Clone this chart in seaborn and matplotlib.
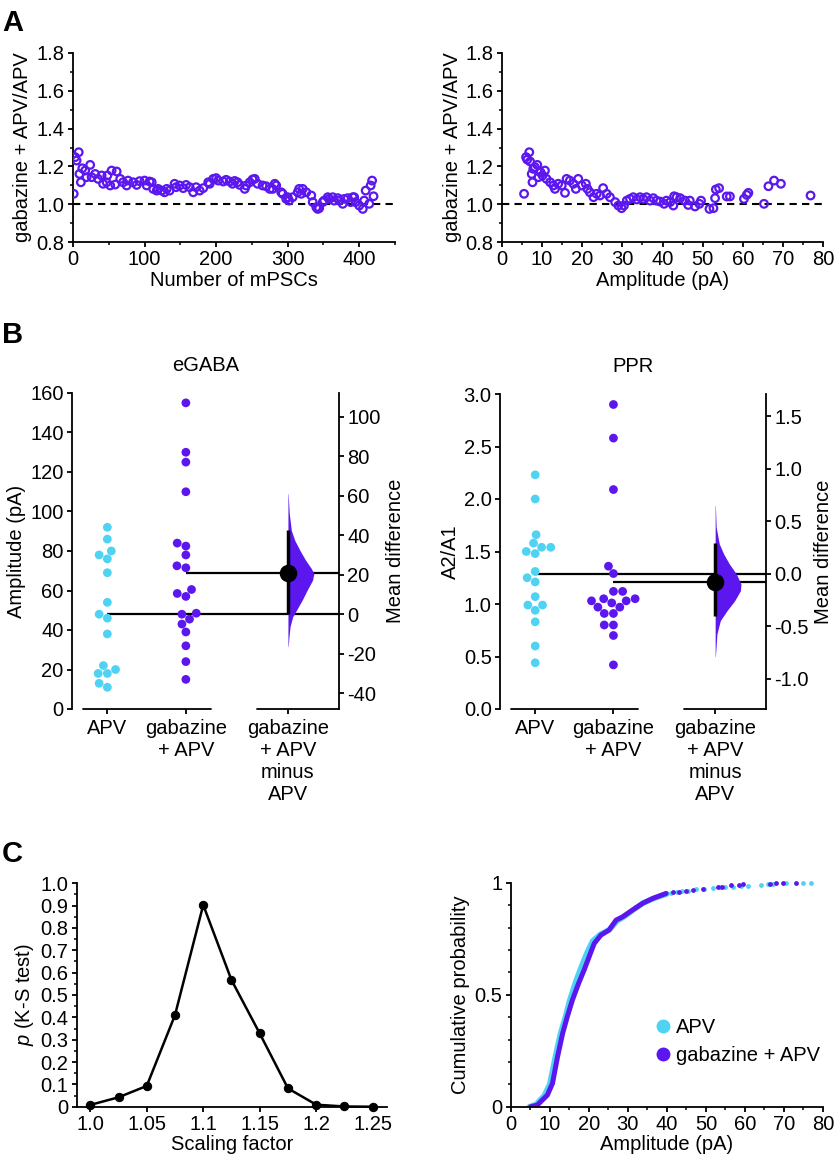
import numpy as np
import pandas as pd
import seaborn as sns
import matplotlib.pyplot as plt
from matplotlib.lines import Line2D
from matplotlib.ticker import MultipleLocator

sns.set_theme(style="ticks")
plt.rcParams['font.family'] = ['Liberation Sans', 'DejaVu Sans']
plt.rcParams['axes.unicode_minus'] = False
plt.rcParams['mathtext.fontset'] = 'custom'
plt.rcParams['mathtext.it'] = 'Liberation Sans:italic'
plt.rcParams['mathtext.rm'] = 'Liberation Sans'
FS = 14.5
plt.rcParams.update({'font.size': FS, 'axes.labelsize': FS, 'axes.titlesize': FS,
                     'xtick.labelsize': FS, 'ytick.labelsize': FS,
                     'axes.linewidth': 1.3, 'xtick.major.width': 1.3, 'ytick.major.width': 1.3,
                     'xtick.minor.width': 1.1, 'ytick.minor.width': 1.1,
                     'xtick.major.size': 3.5, 'ytick.major.size': 3.5,
                     'xtick.minor.size': 2.2, 'ytick.minor.size': 2.2,
                     'xtick.major.pad': 2.5, 'ytick.major.pad': 2.5,
                     'axes.edgecolor': 'black', 'xtick.color': 'black', 'ytick.color': 'black',
                     'text.color': 'black', 'axes.labelcolor': 'black'})

CYAN = '#50D3F3'
PURPLE = '#5B17EE'

# ---- panel A: ratio vs rank and vs amplitude
a_rank = [1, 3, 5, 8, 9, 11, 13, 17, 19, 24, 26, 31, 35, 40, 42, 47, 48, 52, 54, 59,
          61, 66, 70, 75, 77, 84, 89, 93, 100, 103, 107, 110, 112, 117, 119, 124, 128, 131, 135, 142,
          144, 149, 154, 158, 163, 168, 172, 177, 182, 189, 191, 196, 200, 203, 210, 214, 219, 223, 226, 230,
          233, 240, 242, 247, 251, 254, 258, 265, 270, 275, 279, 282, 284, 291, 293, 298, 300, 302, 307, 314,
          316, 319, 321, 326, 333, 335, 340, 342, 344, 349, 351, 356, 358, 363, 365, 370, 372, 377, 379, 384,
          388, 391, 393, 395, 400, 405, 407, 409, 414, 416, 418, 420]
a_rank_ratio = [1.055, 1.249, 1.231, 1.275, 1.160, 1.116, 1.190, 1.178, 1.143, 1.208, 1.143, 1.160, 1.134, 1.152, 1.108, 1.116, 1.152, 1.099, 1.178, 1.104,
                1.173, 1.134, 1.116, 1.099, 1.125, 1.116, 1.102, 1.122, 1.125, 1.099, 1.120, 1.116, 1.081, 1.072, 1.081, 1.072, 1.063, 1.081, 1.072, 1.108,
                1.090, 1.099, 1.085, 1.102, 1.090, 1.063, 1.090, 1.072, 1.085, 1.116, 1.108, 1.134, 1.138, 1.125, 1.120, 1.129, 1.120, 1.108, 1.123, 1.116,
                1.102, 1.081, 1.099, 1.116, 1.131, 1.134, 1.108, 1.099, 1.095, 1.081, 1.081, 1.108, 1.099, 1.063, 1.055, 1.028, 1.037, 1.019, 1.037, 1.063,
                1.081, 1.055, 1.081, 1.063, 1.046, 1.011, 0.984, 0.975, 0.979, 1.011, 1.019, 1.037, 1.028, 1.037, 1.019, 1.032, 1.019, 1.002, 1.028, 1.032,
                1.011, 1.037, 1.037, 1.011, 0.993, 0.975, 1.019, 1.072, 1.002, 1.099, 1.125, 1.042]

a_amp = [5.5, 6.0, 6.3, 6.8, 7.0, 7.4, 7.6, 7.8, 8.2, 8.8, 9.1, 9.6, 10.1, 10.7, 11.1, 12.0, 12.8, 13.2, 14.0, 14.9,
         15.7, 16.1, 16.9, 17.8, 18.4, 19.0, 19.9, 20.9, 21.3, 21.9, 22.8, 23.6, 24.4, 25.2, 26.1, 26.9, 28.2, 29.0, 29.8, 30.4,
         31.1, 31.9, 32.7, 33.6, 34.4, 35.2, 36.0, 36.9, 37.7, 38.5, 39.4, 40.4, 41.0, 41.9, 42.7, 42.9, 43.5, 44.4, 45.6, 46.4,
         46.8, 48.1, 49.2, 49.6, 51.7, 52.7, 53.1, 53.3, 54.1, 56.0, 56.8, 60.3, 61.0, 61.4, 65.3, 66.4, 67.8, 69.5, 76.9]
a_amp_ratio = [1.055, 1.249, 1.236, 1.275, 1.226, 1.160, 1.116, 1.187, 1.196, 1.208, 1.143, 1.169, 1.152, 1.178, 1.134, 1.116, 1.099, 1.081, 1.108, 1.099,
               1.060, 1.134, 1.125, 1.108, 1.081, 1.134, 1.099, 1.108, 1.081, 1.063, 1.037, 1.055, 1.046, 1.085, 1.055, 1.037, 1.011, 0.993, 0.979, 0.993,
               1.019, 1.028, 1.037, 1.025, 1.037, 1.028, 1.037, 1.019, 1.032, 1.019, 1.014, 1.002, 1.019, 1.011, 0.993, 1.042, 1.037, 1.032, 1.019, 0.996,
               1.019, 0.988, 1.002, 1.019, 0.975, 0.979, 1.032, 1.078, 1.085, 1.041, 1.041, 1.028, 1.049, 1.060, 1.002, 1.095, 1.125, 1.108, 1.046]

# ---- panel B: estimation plots
egaba_apv = [92, 86, 80, 78, 76, 69, 54, 48, 46, 38, 22, 20, 18, 18, 13, 11]
egaba_gab = [155, 130, 125, 110, 84, 82.5, 78, 72.5, 71.5, 60.5, 58.5, 57, 48.5, 48, 45.5, 43, 39, 32, 24, 15]
egaba_ci = [0.0, 42.5]
egaba_boot_y = [61, 51, 42.4, 37.4, 32.3, 27.3, 23.1, 20.6, 17.2, 12.1, 7.1, 2.0, -1.4, -6.4, -11.5, -16.5]
egaba_boot_w = [0.01, 0.05, 0.13, 0.26, 0.46, 0.68, 0.90, 1.0, 0.95, 0.74, 0.55, 0.33, 0.18, 0.08, 0.04, 0.01]

ppr_apv = [2.23, 2.0, 1.66, 1.58, 1.54, 1.54, 1.50, 1.48, 1.31, 1.25, 1.21, 1.07, 0.99, 0.99, 0.94, 0.83, 0.60, 0.44]
ppr_gab = [2.90, 2.58, 2.09, 1.36, 1.29, 1.12, 1.12, 1.05, 1.05, 1.03, 1.03, 1.01, 0.97, 0.97, 0.91, 0.91, 0.80, 0.80, 0.70, 0.42]
ppr_ci = [-0.40, 0.29]
ppr_boot_y = [0.65, 0.444, 0.286, 0.19, 0.095, 0.0, -0.095, -0.159, -0.254, -0.35, -0.445, -0.571, -0.788]
ppr_boot_w = [0.01, 0.04, 0.16, 0.33, 0.55, 0.82, 1.0, 0.98, 0.76, 0.46, 0.2, 0.07, 0.01]

# ---- panel C
scale_factor = [1.0, 1.025, 1.05, 1.075, 1.1, 1.125, 1.15, 1.175, 1.2, 1.225, 1.25]
p_ks = [0.008, 0.042, 0.093, 0.41, 0.903, 0.567, 0.328, 0.082, 0.009, 0.001, 0.0]

apv_cdf_amp = [4.8, 6.5, 8.6, 10.0, 11.4, 12.8, 14.0, 15.2, 16.7, 18.2, 19.6, 21.0, 23.0, 25.3, 27.3, 29.2, 31.5, 34.0, 36.7, 40.0]
apv_cdf_p = [0.0, 0.01, 0.05, 0.10, 0.22, 0.33, 0.40, 0.48, 0.56, 0.63, 0.69, 0.74, 0.77, 0.79, 0.83, 0.85, 0.88, 0.91, 0.93, 0.95]
gab_cdf_amp = [5.1, 6.8, 9.4, 10.7, 12.0, 13.3, 14.5, 15.8, 17.4, 18.8, 20.1, 21.4, 23.1, 25.2, 27.0, 28.7, 31.2, 33.8, 36.4, 39.8]
gab_cdf_p = [0.0, 0.007, 0.052, 0.104, 0.223, 0.327, 0.402, 0.476, 0.551, 0.610, 0.670, 0.729, 0.766, 0.789, 0.833, 0.848, 0.878, 0.908, 0.930, 0.952]
apv_tail_amp = [41, 42.5, 44, 45.5, 47.5, 49.5, 51.8, 53.5, 55, 57, 59, 60.8, 64.2, 65.9, 67.2, 70.6, 74.9, 77]
apv_tail_p = [0.955, 0.958, 0.962, 0.965, 0.970, 0.972, 0.976, 0.979, 0.981, 0.983, 0.985, 0.986, 0.990, 0.993, 0.994, 0.997, 0.999, 1.0]
gab_tail_amp = [41.5, 43.2, 44.9, 46.6, 49.2, 53.1, 54, 56.5, 58.6, 59.5, 66.3, 68, 69.7, 73.0]
gab_tail_p = [0.957, 0.960, 0.964, 0.967, 0.973, 0.979, 0.981, 0.988, 0.991, 0.992, 0.996, 0.997, 0.998, 1.0]

W, H = 834, 1159
fig = plt.figure(figsize=(W / 100, H / 100), dpi=100)


def px_axes(left, top, right, bottom):
    return fig.add_axes([left / W, 1 - bottom / H, (right - left) / W, (bottom - top) / H])


def ratio_panel(ax, x, y, xlim, xmajor, xminor, xlabel):
    sns.scatterplot(x=x, y=y, ax=ax, marker='o', s=30, facecolor='none',
                    edgecolor=PURPLE, linewidth=1.6, zorder=3)
    ax.axhline(1.0, color='black', ls=(0, (3.5, 2.5)), lw=1.5, zorder=2)
    ax.set_xlim(*xlim)
    ax.set_ylim(0.8, 1.8)
    ax.xaxis.set_major_locator(MultipleLocator(xmajor))
    ax.xaxis.set_minor_locator(MultipleLocator(xminor))
    ax.yaxis.set_major_locator(MultipleLocator(0.2))
    ax.yaxis.set_minor_locator(MultipleLocator(0.1))
    ax.yaxis.set_major_formatter('{x:.1f}')
    ax.set_xlabel(xlabel, labelpad=1)
    ax.set_ylabel('gabazine + APV/APV', labelpad=3)
    sns.despine(ax=ax)


ax = px_axes(73, 53, 395, 242)
ratio_panel(ax, a_rank, a_rank_ratio, (0, 450), 100, 50, 'Number of mPSCs')
ax = px_axes(502, 53, 823, 242)
ratio_panel(ax, a_amp, a_amp_ratio, (0, 80), 10, 5, 'Amplitude (pA)')

DX = 2.3
XL, XR = -0.45, 2.95


def estimation_panel(ax, apv, gab, ci, boot_y, boot_w, title, ylabel, ymax, ystep, fmt, rticks):
    df = pd.DataFrame({'group': ['APV'] * len(apv) + ['gabazine + APV'] * len(gab),
                       'value': apv + gab})
    sns.swarmplot(data=df, x='group', y='value', hue='group', palette=[CYAN, PURPLE],
                  size=6.3, ax=ax, legend=False, zorder=3)
    apv_mean = np.mean(apv)
    gab_mean = np.mean(gab)
    ax.hlines(apv_mean, 0, XR, color='black', lw=1.6, zorder=2)
    ax.hlines(gab_mean, 1, XR, color='black', lw=1.6, zorder=2)
    ax.fill_betweenx(apv_mean + np.array(boot_y), DX, DX + 0.33 * np.array(boot_w),
                     color=PURPLE, lw=0, zorder=2)
    ax.vlines(DX, apv_mean + ci[0], apv_mean + ci[1], color='black', lw=2.5, zorder=4)
    sns.scatterplot(x=[DX], y=[gab_mean], ax=ax, color='black', s=160, zorder=5, linewidth=0)
    ax.set_xlim(XL, XR)
    ax.set_ylim(0, ymax)
    ax.yaxis.set_major_locator(MultipleLocator(ystep))
    ax.yaxis.set_major_formatter(fmt)
    ax.set_xticks([0, 1, DX])
    ax.set_xticklabels(['APV', 'gabazine\n+ APV', 'gabazine\n+ APV\nminus\nAPV'], linespacing=1.2)
    ax.tick_params(axis='x', pad=4)
    ax.set_xlabel('')
    ax.set_ylabel(ylabel, labelpad=3)
    ax.set_title(title, pad=16)
    for side in ['top', 'right', 'bottom']:
        ax.spines[side].set_visible(False)
    tr = ax.get_xaxis_transform()
    ax.plot([-0.31, 1.32], [0, 0], transform=tr, color='black', lw=1.3, clip_on=False)
    ax.plot([1.90, XR], [0, 0], transform=tr, color='black', lw=1.3, clip_on=False)
    sec = ax.secondary_yaxis('right', functions=(lambda v: v - apv_mean, lambda d: d + apv_mean))
    sec.set_yticks(rticks)
    sec.yaxis.set_major_formatter(fmt)
    sec.set_ylabel('Mean difference', labelpad=4)
    sec.spines['right'].set_linewidth(1.3)


ax = px_axes(72, 393, 339, 709)
estimation_panel(ax, egaba_apv, egaba_gab, egaba_ci, egaba_boot_y, egaba_boot_w,
                 'eGABA', 'Amplitude (pA)', 160, 20, '{x:.0f}', np.arange(-40, 101, 20))
ax = px_axes(500, 394, 766, 709)
estimation_panel(ax, ppr_apv, ppr_gab, ppr_ci, ppr_boot_y, ppr_boot_w,
                 'PPR', 'A2/A1', 3.0, 0.5, '{x:.1f}', np.arange(-1.0, 1.51, 0.5))

# ---- panel C left
ax = px_axes(76.7, 883.3, 386.7, 1106.7)
sns.lineplot(x=scale_factor, y=p_ks, ax=ax, color='black', lw=1.8, marker='o', ms=6,
             mec='black', mfc='black', clip_on=False)
ax.set_xlim(0.988, 1.2624)
ax.set_ylim(0, 1.0)
ax.set_xticks([1.0, 1.05, 1.1, 1.15, 1.2, 1.25])
ax.set_xticklabels(['1.0', '1.05', '1.1', '1.15', '1.2', '1.25'])
ax.set_yticks(np.arange(0, 1.01, 0.1))
ax.set_yticklabels(['0'] + ['{:.1f}'.format(v) for v in np.arange(0.1, 1.01, 0.1)])
ax.yaxis.set_minor_locator(MultipleLocator(0.05))
ax.set_xlabel('Scaling factor', labelpad=1)
ax.set_ylabel(r'$p$ (K-S test)', labelpad=3)
sns.despine(ax=ax)

# ---- panel C right
ax = px_axes(510.7, 882.7, 823, 1106.7)
sns.lineplot(x=apv_cdf_amp, y=apv_cdf_p, ax=ax, color=CYAN, lw=4.0, sort=False,
             solid_capstyle='round')
sns.lineplot(x=gab_cdf_amp, y=gab_cdf_p, ax=ax, color=PURPLE, lw=3.6, sort=False,
             solid_capstyle='round')
sns.scatterplot(x=apv_tail_amp, y=apv_tail_p, ax=ax, color=CYAN, s=12, linewidth=0, clip_on=False)
sns.scatterplot(x=gab_tail_amp, y=gab_tail_p, ax=ax, color=PURPLE, s=12, linewidth=0, clip_on=False)
ax.set_xlim(0, 80)
ax.set_ylim(0, 1)
ax.xaxis.set_major_locator(MultipleLocator(10))
ax.xaxis.set_minor_locator(MultipleLocator(5))
ax.set_yticks([0, 0.5, 1])
ax.set_yticklabels(['0', '0.5', '1'])
ax.yaxis.set_minor_locator(MultipleLocator(0.1))
ax.set_xlabel('Amplitude (pA)', labelpad=1)
ax.set_ylabel('Cumulative probability', labelpad=3)
sns.despine(ax=ax)
handles = [Line2D([], [], ls='none', marker='o', ms=9, color=CYAN, label='APV'),
           Line2D([], [], ls='none', marker='o', ms=9, color=PURPLE, label='gabazine + APV')]
ax.legend(handles=handles, loc='upper left', bbox_to_anchor=(0.43, 0.43), frameon=False,
          handletextpad=0.15, handlelength=1.0, borderaxespad=0, labelspacing=0.45, fontsize=FS)

# panel letters
for letter, y in [('A', 31), ('B', 343), ('C', 862)]:
    fig.text(2 / W, 1 - y / H, letter, fontsize=21, fontweight='bold', va='baseline', ha='left')

fig.savefig('out.png', dpi=100)
